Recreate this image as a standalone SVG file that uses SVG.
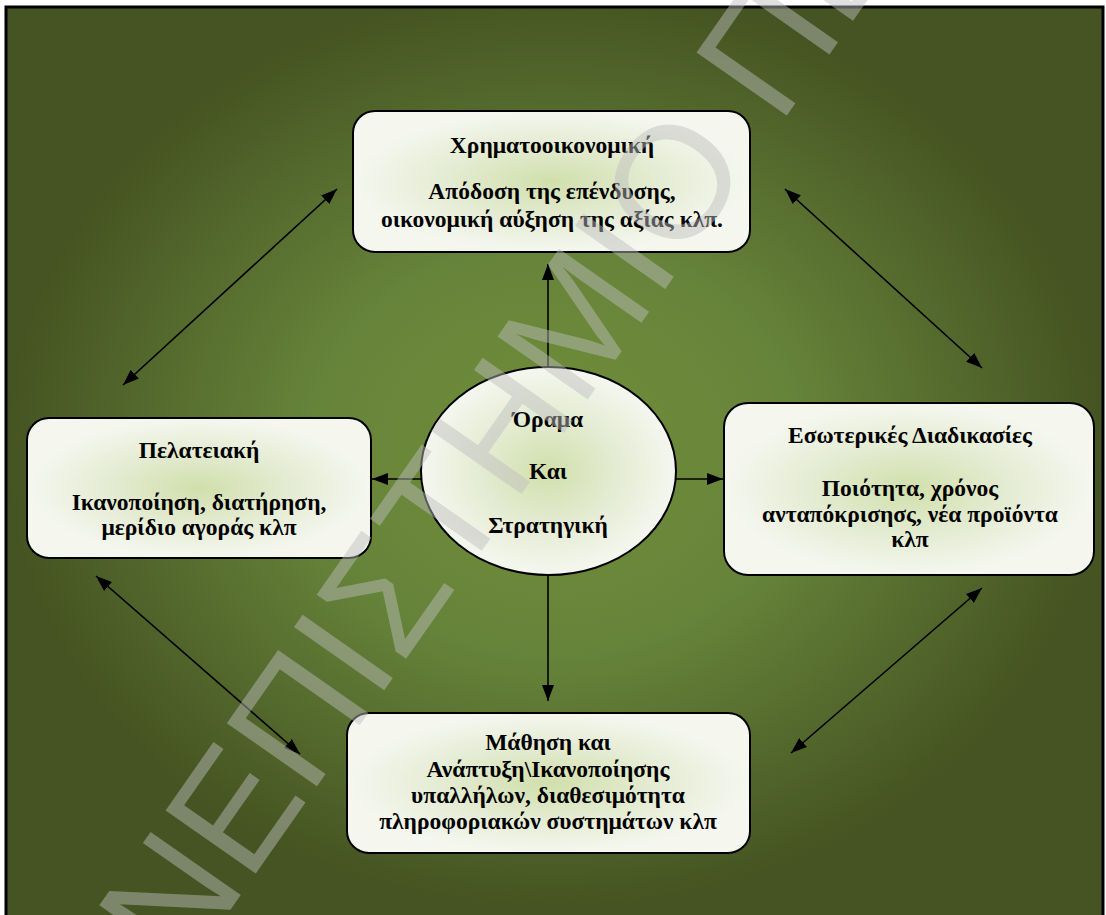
<svg xmlns="http://www.w3.org/2000/svg" width="1106" height="915" viewBox="0 0 1106 915">
<defs>
<radialGradient id="bg" cx="0.5" cy="0.48" r="0.5" gradientUnits="objectBoundingBox">
<stop offset="0" stop-color="#718e3a"/>
<stop offset="0.45" stop-color="#66833a"/>
<stop offset="1" stop-color="#455422"/>
</radialGradient>
<radialGradient id="box" cx="0.5" cy="0.5" r="0.5" gradientUnits="objectBoundingBox">
<stop offset="0" stop-color="#d1dfab"/>
<stop offset="0.55" stop-color="#e5ecd4"/>
<stop offset="1" stop-color="#f5f7ef"/>
</radialGradient>
<marker id="ah" markerWidth="16" markerHeight="12" refX="16" refY="6" orient="auto-start-reverse" markerUnits="userSpaceOnUse">
<path d="M0,0 L16,6 L0,12 z" fill="#000"/>
</marker>
<style>
.node{fill:url(#box);stroke:#000;stroke-width:2}
.t{font-family:"Liberation Serif","Times New Roman",serif;font-weight:bold;font-size:23.5px;fill:#000;text-anchor:middle}
.c{stroke:#000;stroke-width:1.6;fill:none}
.wm{font-family:"Liberation Sans",Arial,sans-serif;font-size:160px;fill:#bdbdbd;fill-opacity:0.47}
</style>
</defs>
<rect x="6" y="7" width="1097" height="920" fill="url(#bg)" stroke="#000" stroke-width="3"/>

<g id="connectors">
<line class="c" x1="548" y1="367" x2="548" y2="264" marker-end="url(#ah)"/>
<line class="c" x1="421" y1="479" x2="372" y2="479" marker-end="url(#ah)"/>
<line class="c" x1="676" y1="479" x2="723" y2="479" marker-end="url(#ah)"/>
<line class="c" x1="548" y1="575" x2="548" y2="701" marker-end="url(#ah)"/>
<line class="c" x1="123" y1="385" x2="337" y2="189" marker-start="url(#ah)" marker-end="url(#ah)"/>
<line class="c" x1="785" y1="189" x2="982" y2="368" marker-start="url(#ah)" marker-end="url(#ah)"/>
<line class="c" x1="96" y1="576" x2="300" y2="754" marker-start="url(#ah)" marker-end="url(#ah)"/>
<line class="c" x1="982" y1="588" x2="791" y2="753" marker-start="url(#ah)" marker-end="url(#ah)"/>
</g>

<g id="node-financial">
<rect class="node" x="353" y="111" width="397" height="141" rx="22"/>
<text class="t" x="552" y="153">Χρηματοοικονομική</text>
<text class="t" x="552" y="199">Απόδοση της επένδυσης,</text>
<text class="t" x="552" y="227">οικονομική αύξηση της αξίας κλπ.</text>
</g>

<g id="node-customer">
<rect class="node" x="27" y="418" width="344" height="140" rx="22"/>
<text class="t" x="199" y="458">Πελατειακή</text>
<text class="t" x="199" y="510">Ικανοποίηση, διατήρηση,</text>
<text class="t" x="199" y="535">μερίδιο αγοράς κλπ</text>
</g>

<g id="node-vision">
<ellipse class="node" cx="548.5" cy="471" rx="127.5" ry="104"/>
<text class="t" x="548" y="427">Όραμα</text>
<text class="t" x="548" y="479">Και</text>
<text class="t" x="548" y="533">Στρατηγική</text>
</g>

<g id="node-internal">
<rect class="node" x="724" y="403" width="370" height="172" rx="24"/>
<text class="t" x="910" y="443">Εσωτερικές Διαδικασίες</text>
<text class="t" x="910" y="496">Ποιότητα, χρόνος</text>
<text class="t" x="910" y="522">ανταπόκρισησς, νέα προϊόντα</text>
<text class="t" x="910" y="547">κλπ</text>
</g>

<g id="node-learning">
<rect class="node" x="347" y="713" width="403" height="140" rx="22"/>
<text class="t" x="548" y="750">Μάθηση και</text>
<text class="t" x="548" y="777">Ανάπτυξη\Ικανοποίησης</text>
<text class="t" x="548" y="803">υπαλλήλων, διαθεσιμότητα</text>
<text class="t" x="548" y="829">πληροφοριακών συστημάτων κλπ</text>
</g>

<text class="wm" transform="translate(182,979) rotate(-55)">ΝΕΠΙΣΤΗΜΙΟ ΠΕ</text>
</svg>
